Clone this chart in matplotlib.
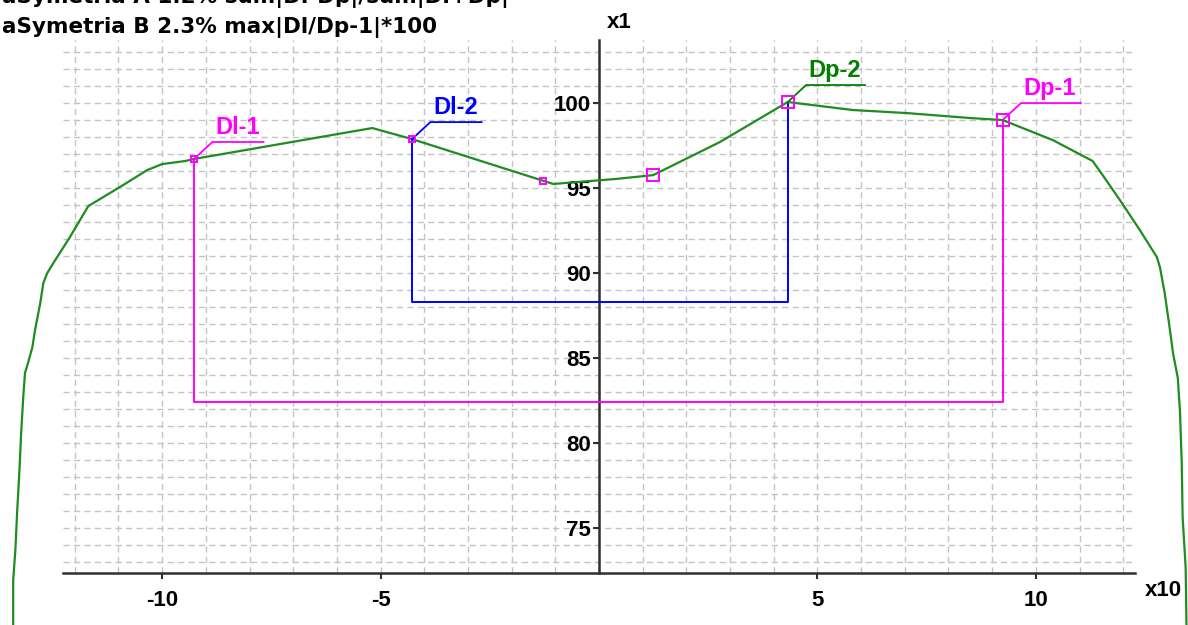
import matplotlib.pyplot as plt
from matplotlib.ticker import MultipleLocator

plt.rcParams['font.family'] = ['Liberation Sans', 'DejaVu Sans']
plt.rcParams['font.weight'] = 'bold'

# profil (x10 na osi X, x1 na osi Y)
curve_x = [-13.41, -13.41, -13.36, -13.32, -13.27, -13.23, -13.18, -13.14, -13.07,
           -12.97, -12.91, -12.79, -12.72, -12.63, -12.49, -12.11, -11.88, -11.69,
           -10.89, -10.34, -10.00, -9.47, -9.27, -5.19, -4.28, -1.05, 0.37, 1.24,
           2.77, 4.32, 5.81, 7.05, 8.49, 9.24, 10.39, 11.30, 11.53, 11.97, 12.38,
           12.77, 12.84, 12.95, 13.07, 13.14, 13.25, 13.30, 13.34, 13.36, 13.43, 13.45]
curve_y = [69.0, 71.94, 73.71, 75.94, 78.24, 80.47, 82.71, 84.12, 84.71,
           85.65, 86.65, 88.24, 89.41, 90.00, 90.59, 92.12, 93.12, 93.94,
           95.18, 96.06, 96.41, 96.59, 96.71, 98.53, 97.88, 95.24, 95.53, 95.76,
           97.71, 100.06, 99.59, 99.41, 99.12, 99.00, 97.82, 96.59, 95.76, 94.12, 92.53,
           90.94, 90.35, 88.82, 86.65, 85.29, 83.82, 81.82, 78.82, 75.65, 72.65, 69.0]

# punkty pomiarowe
pts_x = [-9.27, -4.28, -1.28, 1.24, 4.32, 9.24]
pts_y = [96.71, 97.88, 95.43, 95.76, 100.06, 99.00]
pts_size = [5, 5, 5, 8, 8, 8]

# opisy punktow
lab_names = ['Dl-1', 'Dl-2', 'Dp-2', 'Dp-1']
lab_x = [-9.27, -4.28, 4.32, 9.24]
lab_y = [96.71, 97.88, 100.06, 99.00]
lab_colors = ['#ff00ff', '#0000ff', '#008000', '#ff00ff']
lab_shelf = [1.17, 1.17, 1.35, 1.37]

# poziomy prostokatow
rect_a = 82.41   # Dl-1 .. Dp-1
rect_b = 88.28   # Dl-2 .. Dp-2

title_a = 'aSymetria A 1.2% sum|Dl-Dp|/sum|Dl+Dp|'
title_b = 'aSymetria B 2.3% max|Dl/Dp-1|*100'

fig = plt.figure(figsize=(11.88, 6.25), dpi=100)
ax = fig.add_axes([63 / 1188, 1 - 573 / 625, (1135 - 63) / 1188, (573 - 40) / 625])
ax.set_xlim(-12.27, 12.27)
ax.set_ylim(72.35, 103.71)

# siatka
ax.xaxis.set_minor_locator(MultipleLocator(1))
ax.yaxis.set_minor_locator(MultipleLocator(1))
ax.grid(which='both', color='#c4c4c4', lw=1, ls=(0, (4.5, 3)))
ax.set_axisbelow(True)

# osie
for s in ['top', 'right']:
    ax.spines[s].set_visible(False)
ax.spines['left'].set_position(('data', 0))
for s in ['left', 'bottom']:
    ax.spines[s].set_color('#303030')
    ax.spines[s].set_linewidth(1.8)
ax.set_xticks([-10, -5, 5, 10])
ax.set_xticklabels(['-10', '-5', '5', '10'])
ax.set_yticks([75, 80, 85, 90, 95, 100])
ax.tick_params(which='minor', length=0)
ax.tick_params(axis='x', which='major', direction='out', length=4, width=1.5,
               pad=8, labelsize=16, color='#303030')
ax.tick_params(axis='y', which='major', direction='out', length=4, width=1.5,
               pad=2, labelsize=16, color='#303030')
for t in ax.get_xticklabels() + ax.get_yticklabels():
    t.set_fontweight('bold')

# prostokaty
ax.plot([lab_x[0], lab_x[0], lab_x[3], lab_x[3]], [lab_y[0], rect_a, rect_a, lab_y[3]],
        color='#ff00ff', lw=1.4, zorder=3)
ax.plot([lab_x[1], lab_x[1], lab_x[2], lab_x[2]], [lab_y[1], rect_b, rect_b, lab_y[2]],
        color='#0000ff', lw=1.4, zorder=3)

# krzywa
ax.plot(curve_x, curve_y, color='#1e8c1e', lw=1.6, clip_on=False, zorder=4)

for x, y, ms in zip(pts_x, pts_y, pts_size):
    ax.plot(x, y, marker='s', ms=ms, mfc='none', mec='#ff00ff', mew=1.4, zorder=5)

# odnosniki z opisami
for name, x, y, c, shelf in zip(lab_names, lab_x, lab_y, lab_colors, lab_shelf):
    ex, ey = x + 0.42, y + 1.0
    ax.plot([x, ex, ex + shelf], [y, ey, ey], color=c, lw=1.3, zorder=4)
    ax.annotate(name, (ex, ey), xytext=(2, 6), textcoords='offset points',
                ha='left', va='baseline', color=c, fontsize=17, fontweight='bold')

fig.text(1145 / 1188, 1 - 591 / 625, 'x10', fontsize=16, fontweight='bold',
         ha='left', va='center')
fig.text(607 / 1188, 1 - 23 / 625, 'x1', fontsize=16, fontweight='bold',
         ha='left', va='center')
# naglowek - pierwsza linia wychodzi poza gorna krawedz
fig.text(2 / 1188, 1 + 3 / 625, title_a, fontsize=15.5, fontweight='bold',
         family='DejaVu Sans', ha='left', va='center')
fig.text(2 / 1188, 1 - 27 / 625, title_b, fontsize=15.5, fontweight='bold',
         family='DejaVu Sans', ha='left', va='center')

fig.savefig('out.png', dpi=100)
